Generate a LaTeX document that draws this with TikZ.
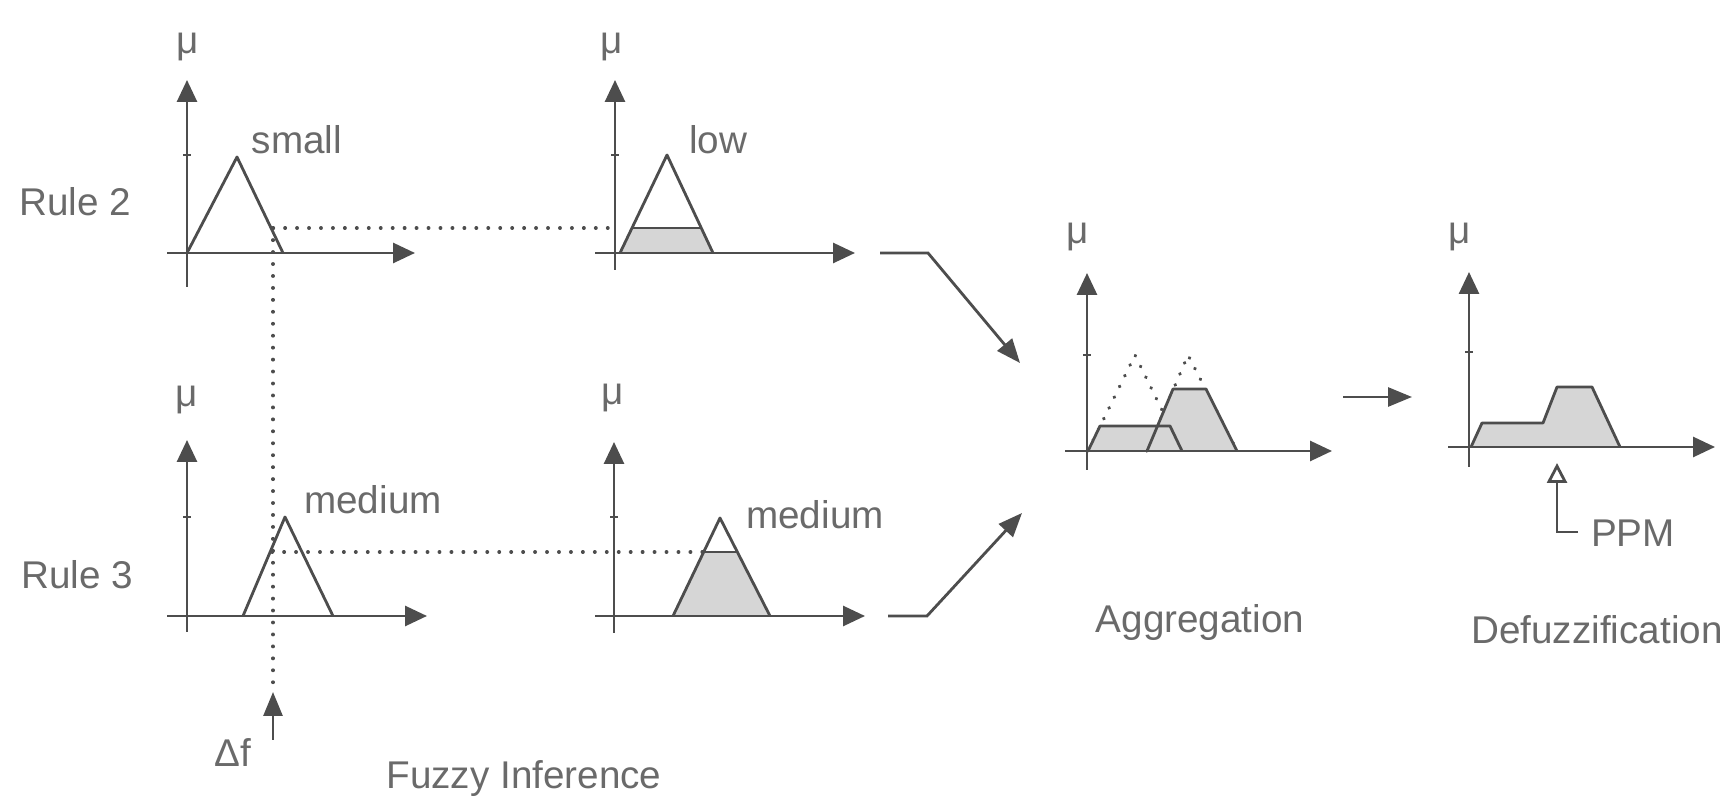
\documentclass[tikz,border=0pt]{standalone}
\usepackage{fontspec}
\setmainfont{Liberation Sans}
\usetikzlibrary{arrows.meta, positioning}
\definecolor{fzInk}{HTML}{4D4D4D}
\definecolor{fzText}{HTML}{6A6A6A}
\definecolor{fzShade}{HTML}{D6D6D6}
\tikzset{
  fzaxis/.style={draw=fzInk, line width=0.8pt, -{Triangle[length=2.2mm, width=2mm]}},
  fzset/.style={draw=fzInk, line width=0.8pt, line join=round},
  fzcut/.style={fill=fzShade},
  fzdot/.style={draw=fzInk, line width=1pt, dash pattern=on 0.1pt off 3.3pt, line cap=round},
  fzlink/.style={draw=fzInk, line width=0.8pt, -{Triangle[length=2.4mm, width=1.9mm]}},
  fzppm/.style={draw=fzInk, line width=0.8pt, -{Triangle[open, length=2mm, width=2mm]}},
  fzlabel/.style={text=fzText, font=\fontsize{11pt}{13pt}\selectfont, inner sep=0pt},
}
\begin{document}
\begin{tikzpicture}[x=0.1mm, y=-0.1mm]
\useasboundingbox (0,0) rectangle (1731,797);

\node[fzlabel] (rule2) at (75,202) {Rule 2};
\node[fzlabel] (rule3) at (77,575) {Rule 3};
\node[fzlabel] (mu1) at (188,47) {μ};
\node[fzlabel] (mu2) at (612,47) {μ};
\node[fzlabel] (mu3) at (187,400) {μ};
\node[fzlabel] (mu4) at (613,398) {μ};
\node[fzlabel] (mu5) at (1078,237) {μ};
\node[fzlabel] (mu6) at (1460,237) {μ};
\node[fzlabel] (small) at (297,140) {small};
\node[fzlabel] (low) at (718,140) {low};
\node[fzlabel] (medin) at (373,500) {medium};
\node[fzlabel] (medout) at (815,515) {medium};
\node[fzlabel] (df) at (233,753) {Δf};
\node[fzlabel] (inference) at (524,779) {Fuzzy Inference};
\node[fzlabel] (aggregation) at (1200,623) {Aggregation};
\node[fzlabel] (defuzz) at (1597,630) {Defuzzification};
\node[fzlabel] (ppm) at (1633,533) {PPM};

\fill[fzcut] (620,253) -- (632,228) -- (701,228) -- (713,253) -- cycle;
\fill[fzcut] (673,616) -- (704,552) -- (737,552) -- (770,616) -- cycle;
\draw[fzdot] (1088,451) -- (1135,355) -- (1182,451);
\draw[fzdot] (1147,451) -- (1188,355) -- (1237,451);
\fill[fzcut] (1088,451) -- (1100,426) -- (1170,426) -- (1182,451) -- cycle;
\fill[fzcut] (1147,451) -- (1173,389) -- (1206,389) -- (1237,451) -- cycle;
\fill[fzcut] (1471,447) -- (1482,423) -- (1543,423) -- (1557,387) -- (1592,387) -- (1620,447) -- cycle;

\draw[fzset] (187,253) -- (237,157) -- (283,253);
\draw[fzset] (620,253) -- (667,155) -- (713,253);
\draw[fzset] (632,228) -- (701,228);
\draw[fzset] (243,616) -- (285,517) -- (333,616);
\draw[fzset] (673,616) -- (720,518) -- (770,616);
\draw[fzset] (704,552) -- (737,552);
\draw[fzset] (1088,451) -- (1100,426) -- (1170,426) -- (1182,451);
\draw[fzset] (1147,451) -- (1173,389) -- (1206,389) -- (1237,451);
\draw[fzset] (1471,447) -- (1482,423) -- (1543,423) -- (1557,387) -- (1592,387) -- (1620,447);

\draw[fzaxis] (187,287) -- (187,80);
\draw[fzaxis] (167,253) -- (415,253);
\draw[fzaxis] (615,270) -- (615,80);
\draw[fzaxis] (595,253) -- (855,253);
\draw[fzaxis] (187,632) -- (187,440);
\draw[fzaxis] (167,616) -- (427,616);
\draw[fzaxis] (614,633) -- (614,442);
\draw[fzaxis] (595,616) -- (865,616);
\draw[fzaxis] (1087,470) -- (1087,273);
\draw[fzaxis] (1065,451) -- (1332,451);
\draw[fzaxis] (1469,467) -- (1469,272);
\draw[fzaxis] (1448,447) -- (1715,447);
\foreach \tx/\ty in {187/155, 615/155, 187/517, 614/517, 1087/355, 1469/352}
  \draw[fzset] (\tx-4,\ty) -- (\tx+4,\ty);

\draw[fzdot] (273,228) -- (615,228);
\draw[fzdot] (272,552) -- (704,552);
\draw[fzdot] (273,228) -- (273,692);

\coordinate (dfin) at (273,740);
\coordinate (dfpoint) at (273,692);
\draw[fzlink] (dfin) -- (dfpoint);

\coordinate (r2out) at (880,253);
\coordinate (r2bend) at (928,253);
\coordinate (aggin2) at (1020,363);
\draw[fzlink] (r2out) -- (r2bend) -- (aggin2);
\coordinate (r3out) at (888,616);
\coordinate (r3bend) at (927,616);
\coordinate (aggin3) at (1022,513);
\draw[fzlink] (r3out) -- (r3bend) -- (aggin3);
\coordinate (aggout) at (1343,397);
\coordinate (defin) at (1412,397);
\draw[fzlink] (aggout) -- (defin);

\coordinate (ppmend) at (1578,532);
\coordinate (ppmcorner) at (1557,532);
\coordinate (ppmtip) at (1557,463);
\draw[fzppm] (ppmend) -- (ppmcorner) -- (ppmtip);
\end{tikzpicture}
\end{document}
